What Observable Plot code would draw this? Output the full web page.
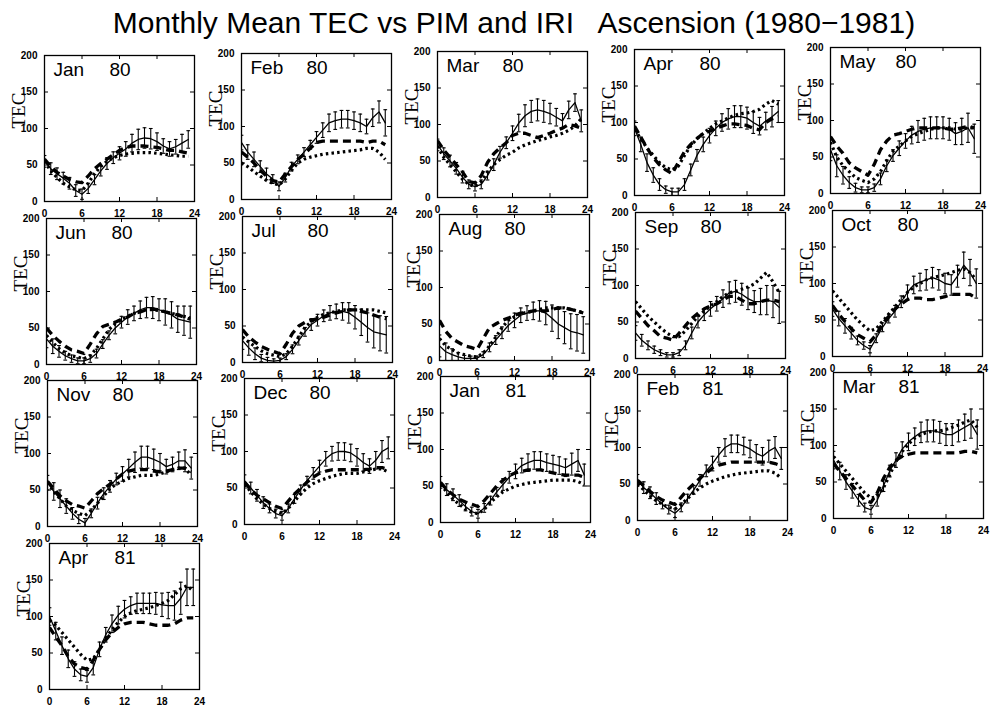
<!DOCTYPE html>
<html><head><meta charset="utf-8">
<script src="https://cdn.jsdelivr.net/npm/d3@7"></script>
<script src="https://cdn.jsdelivr.net/npm/@observablehq/plot@0.6"></script>
<style>
body{margin:0;background:#fff;width:990px;height:708px;position:relative;overflow:hidden;font-family:"Liberation Sans",Arial,sans-serif}
#title{position:absolute;left:0;width:1028px;top:6px;text-align:center;font-size:30px;white-space:pre;color:#000}
.panel{position:absolute}
</style></head><body>
<div id="title">Monthly Mean TEC vs PIM and IRI   Ascension (1980−1981)</div>
<script>
const months = ["Jan","Feb","Mar","Apr","May","Jun","Jul","Aug","Sep","Oct","Nov","Dec","Jan","Feb","Mar","Apr"];
const years  = ["80","80","80","80","80","80","80","80","80","80","80","80","81","81","81","81"];
const hours = [0,1,2,3,4,5,6,7,8,9,10,11,12,13,14,15,16,17,18,19,20,21,22,23];
const xTicks = [0,6,12,18,24];
const yTicks = [0,50,100,150,200];

// observed monthly mean TEC (solid line with error bars)
const observed = [
 [55,45,38,32,25,15,10,18,30,42,52,60,66,72,80,85,87,86,82,76,72,75,80,85],
 [78,65,55,45,35,28,18,30,45,55,65,75,85,95,105,108,110,110,108,105,100,112,120,105],
 [72,60,50,40,28,18,15,18,30,45,62,75,88,102,112,118,120,118,115,110,105,120,130,105],
 [92,70,45,28,15,8,5,5,15,35,55,70,82,92,100,105,108,108,106,100,95,102,108,115],
 [60,38,25,15,8,5,5,8,20,38,52,62,72,80,85,88,90,90,90,88,82,85,90,75],
 [35,25,18,12,8,5,5,8,15,28,40,50,58,65,70,75,78,78,75,72,68,62,60,58],
 [30,20,12,6,3,2,3,8,18,30,42,52,58,64,68,70,70,68,62,55,48,42,40,38],
 [20,12,8,5,3,3,3,8,18,28,38,48,55,62,65,68,68,65,58,50,45,40,38,35],
 [35,25,18,12,8,5,5,8,18,35,50,60,68,75,82,90,92,88,82,78,78,80,78,70],
 [65,52,42,32,22,15,10,25,40,52,62,75,88,98,102,105,108,105,100,98,110,125,115,100],
 [60,48,38,28,18,10,5,18,32,45,55,65,72,80,88,95,95,92,88,82,85,90,90,80],
 [60,50,40,30,22,15,12,22,35,48,60,70,80,90,97,100,100,98,92,85,80,88,100,105],
 [55,45,38,30,22,15,12,20,30,42,52,62,70,78,82,85,85,82,80,78,75,80,85,65],
 [55,45,38,30,22,15,10,18,30,42,55,68,78,90,100,105,105,102,98,92,88,95,100,85],
 [80,65,50,38,25,15,12,25,45,65,80,95,105,112,118,120,120,118,115,115,120,125,130,115],
 [100,80,60,42,28,20,18,30,55,75,90,102,110,115,118,118,118,118,116,115,115,125,140,140]
];
// one-sigma spread of the observations (error bars)
const errors = [
 [8,8,8,8,8,8,7,7,7,7,8,8,9,10,12,14,14,14,12,10,10,10,12,12],
 [10,10,10,8,8,6,6,6,6,6,6,6,8,10,12,12,12,12,12,12,10,12,15,18],
 [8,8,8,8,8,6,6,6,6,8,8,8,10,12,15,15,15,15,14,12,10,12,12,15],
 [10,10,12,10,8,5,5,5,8,8,8,10,10,10,12,14,15,15,15,15,12,12,14,15],
 [15,15,12,8,6,4,4,5,8,8,8,10,10,12,15,15,15,15,15,15,15,18,20,20],
 [12,10,8,6,5,4,4,5,6,6,6,8,8,10,10,12,14,15,15,18,18,18,20,22],
 [12,10,8,5,4,3,3,4,6,6,6,8,8,8,10,10,12,14,16,18,20,22,24,25],
 [15,12,8,6,4,3,3,4,6,6,8,8,10,10,10,12,14,16,18,20,22,24,25,25],
 [10,8,6,5,4,3,3,4,6,8,8,8,10,10,12,15,15,15,15,15,18,20,22,22],
 [10,10,10,8,6,5,5,6,6,6,8,8,10,12,12,14,14,14,14,14,15,18,18,20],
 [10,12,12,10,8,6,6,6,8,8,8,8,10,12,14,15,15,14,12,10,10,12,15,15],
 [8,8,8,8,6,6,6,6,6,6,6,8,8,10,10,12,12,12,12,12,10,12,15,15],
 [8,8,8,8,6,6,6,6,6,6,8,8,10,10,12,12,12,12,12,12,12,15,15,15],
 [8,8,8,8,6,6,6,6,6,6,8,8,10,10,12,12,12,12,12,12,12,15,15,15],
 [12,12,10,10,8,6,6,8,8,8,10,10,12,12,14,15,15,15,15,15,15,18,20,20],
 [12,12,12,12,10,8,8,10,10,10,12,12,12,12,14,14,14,15,16,18,20,22,25,25]
];
// PIM model (dashed)
const pim = [
 [58,48,40,35,30,27,26,35,45,52,58,64,70,74,76,76,76,75,74,72,70,70,68,66],
 [65,58,50,40,32,26,24,35,45,55,62,70,78,80,80,80,80,80,80,80,78,80,80,75],
 [78,65,55,45,35,22,20,30,48,60,68,75,85,88,88,85,82,85,88,92,95,100,98,95],
 [95,80,65,52,42,35,30,45,60,70,78,85,88,92,95,98,98,97,96,92,90,100,105,108],
 [78,65,55,42,35,30,25,40,60,72,80,82,85,88,90,90,90,90,90,88,88,90,92,90],
 [50,40,32,25,20,18,15,28,42,52,55,58,62,65,70,72,75,76,75,72,70,68,65,62],
 [45,35,28,22,18,15,12,25,40,50,55,58,60,62,65,68,70,72,72,70,68,65,62,60],
 [55,40,30,25,20,18,15,30,45,50,55,58,62,65,66,68,68,68,70,72,72,70,68,65],
 [65,55,45,38,30,28,25,35,45,55,62,68,72,75,80,85,85,80,75,75,78,80,80,78],
 [70,58,48,38,30,25,20,30,45,55,65,72,78,80,80,78,78,80,82,85,85,85,85,80],
 [62,52,42,35,30,28,25,35,45,52,58,65,72,76,78,78,78,76,75,76,78,80,80,75],
 [58,48,40,35,30,25,22,32,42,50,58,65,70,73,75,75,75,75,75,75,76,78,78,75],
 [55,45,38,32,28,25,22,30,40,50,58,64,68,70,72,72,72,70,68,66,65,65,65,62],
 [55,48,40,33,28,25,22,32,42,50,58,65,72,76,78,80,80,80,80,80,80,80,78,75],
 [75,65,55,45,35,25,22,35,55,70,80,85,88,90,90,90,90,90,90,90,90,92,92,90],
 [85,72,60,45,35,30,28,40,55,68,78,85,90,92,92,92,90,88,88,88,90,95,98,98]
];
// IRI model (dotted)
const iri = [
 [55,42,33,25,20,16,15,25,38,48,55,60,63,65,66,67,67,67,66,65,64,63,62,62],
 [50,45,38,32,26,22,20,28,40,50,55,58,60,62,63,64,65,66,67,68,70,70,65,55],
 [70,55,45,35,25,18,15,22,35,45,52,58,62,68,72,75,78,80,83,85,88,92,98,108],
 [90,78,65,55,45,38,35,40,55,68,78,85,92,98,102,106,110,112,113,115,118,125,130,125],
 [70,50,38,30,22,18,15,20,30,45,58,65,72,78,82,85,88,90,90,90,88,88,90,90],
 [40,30,22,16,12,10,8,12,22,35,48,56,62,66,70,73,75,75,74,72,70,68,66,64],
 [35,28,22,16,12,10,8,12,22,35,48,56,62,66,68,70,72,72,72,72,72,72,70,68],
 [30,20,15,10,8,6,5,10,20,32,45,55,60,64,66,68,70,72,72,72,72,70,68,65],
 [78,68,58,50,42,35,30,30,38,48,58,65,72,78,85,90,92,95,98,102,110,118,105,90],
 [90,80,70,60,50,42,35,38,48,58,68,78,88,95,100,105,108,110,112,115,118,120,115,105],
 [60,48,38,28,22,18,15,22,32,42,52,58,62,66,68,70,70,70,72,75,78,80,80,70],
 [55,45,35,28,22,18,15,22,32,42,50,56,60,63,66,68,70,70,70,72,74,76,76,72],
 [52,42,32,25,18,14,12,18,28,35,42,46,50,52,54,55,56,57,58,58,58,58,56,52],
 [50,42,34,27,22,18,16,22,30,38,45,50,54,57,60,62,64,65,66,67,68,68,65,58],
 [85,75,65,55,45,35,28,30,42,60,78,92,102,110,115,118,120,120,122,125,128,132,135,125],
 [95,88,78,68,58,48,40,42,55,70,82,92,100,105,108,110,112,115,118,122,130,138,142,135]
];

const ML = 44, MR = 6, MT = 6, MB = 24, FW = 150, FH = 146;

function panel(i) {
  const data = hours.map((h, j) => ({h, obs: observed[i][j], err: errors[i][j], pim: pim[i][j], iri: iri[i][j]}));
  return Plot.plot({
    width: ML + FW + MR, height: MT + FH + MB,
    marginLeft: ML, marginRight: MR, marginTop: MT, marginBottom: MB,
    x: {domain: [0, 24]},
    y: {domain: [0, 200]},
    style: {fontFamily: "'Liberation Sans', Arial, sans-serif", fontSize: "10px", fontWeight: "bold", color: "black", background: "transparent", overflow: "visible"},
    marks: [
      Plot.frame({stroke: "black", strokeWidth: 1.3}),
      Plot.ruleX(xTicks, {insetTop: FH - 4, stroke: "black"}),
      Plot.ruleX(xTicks, {insetBottom: FH - 4, stroke: "black"}),
      Plot.ruleY(yTicks, {insetRight: FW - 4, stroke: "black"}),
      Plot.ruleY(yTicks, {insetLeft: FW - 4, stroke: "black"}),
      Plot.axisX({ticks: xTicks, tickSize: 0, tickPadding: 8, label: null, tickFormat: d => d}),
      Plot.axisY({ticks: yTicks, tickSize: 0, tickPadding: 7, label: null, tickFormat: d => d}),
      Plot.text(["TEC"], {frameAnchor: "left", dx: -26, rotate: -90, fontSize: 19, fontWeight: "normal", fill: "black", fontFamily: "'Liberation Serif', 'DejaVu Serif', serif", text: d => d}),
      Plot.text([months[i]], {frameAnchor: "top-left", dx: 9, dy: 7, fontSize: 19, fontWeight: "normal", fill: "black", text: d => d}),
      Plot.text([years[i]], {frameAnchor: "top-left", dx: 65, dy: 7, fontSize: 19, fontWeight: "normal", fill: "black", text: d => d}),
      Plot.line(data, {x: "h", y: "iri", stroke: "black", strokeWidth: 3.2, strokeLinecap: "butt", strokeDasharray: "2.5,3.2", clip: true}),
      Plot.line(data, {x: "h", y: "pim", stroke: "black", strokeWidth: 3.3, strokeLinecap: "butt", strokeDasharray: "8,5", clip: true}),
      Plot.ruleX(data, {x: "h", y1: d => d.obs - d.err, y2: d => d.obs + d.err, stroke: "black", strokeWidth: 1.1, clip: true}),
      Plot.link(data, {x1: d => d.h - 0.3, x2: d => d.h + 0.3, y1: d => d.obs + d.err, y2: d => d.obs + d.err, stroke: "black", strokeWidth: 1.1, clip: true}),
      Plot.link(data, {x1: d => d.h - 0.3, x2: d => d.h + 0.3, y1: d => d.obs - d.err, y2: d => d.obs - d.err, stroke: "black", strokeWidth: 1.1, clip: true}),
      Plot.line(data, {x: "h", y: "obs", stroke: "black", strokeWidth: 1.3, clip: true})
    ]
  });
}

months.forEach((m, i) => {
  const c = i % 5, r = Math.floor(i / 5);
  const frameLeft = 44 + c * 196.5 + r * 1.5;
  const frameTop = 55 + r * 162.5 - c * 2;
  const div = document.createElement("div");
  div.className = "panel";
  div.style.left = (frameLeft - ML) + "px";
  div.style.top = (frameTop - MT) + "px";
  div.appendChild(panel(i));
  document.body.appendChild(div);
});
</script>
</body></html>
